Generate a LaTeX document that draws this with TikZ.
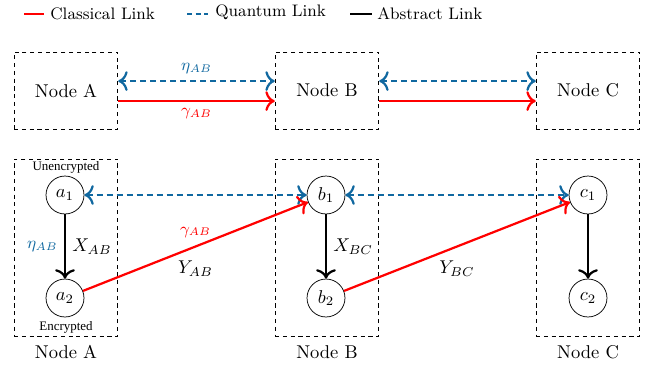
\documentclass[tikz,border=0pt]{standalone}
\usepackage{fontspec}
\usepackage{xcolor}
\usepackage{amsmath}
\usepackage{tikz}
\usetikzlibrary{arrows.meta}
\newfontfamily\timesfont{Liberation Serif}
\definecolor{quantblue}{RGB}{16,104,160}

\begin{document}
\begin{tikzpicture}[x=0.54pt, y=-0.54pt, >={To[scale=1.2]},
  box/.style={draw, dash pattern=on 2.2pt off 2pt, minimum width=56pt, inner sep=0pt},
  st/.style={draw, circle, minimum size=20.5pt, inner sep=0pt},
  classical/.style={->, very thick, red},
  quantum/.style={<->, very thick, quantblue, dash pattern=on 3.2pt off 2.2pt},
  abstract/.style={->, very thick, black},
  legend/.style={anchor=west, inner sep=0pt, font=\small},
  tag/.style={font=\timesfont\scriptsize}]
  \useasboundingbox (0,0) rectangle (651,367);
  % legend
  \coordinate (lc1) at (24,14); \coordinate (lc2) at (44,14);
  \coordinate (lq1) at (187,14); \coordinate (lq2) at (208,14);
  \coordinate (la1) at (350,14); \coordinate (la2) at (372,14);
  \draw[very thick, red] (lc1) -- (lc2);
  \draw[very thick, quantblue, dash pattern=on 2.8pt off 1.8pt] (lq1) -- (lq2);
  \draw[very thick] (la1) -- (la2);
  \node[legend] (lgC) at (50,14) {Classical Link};
  \node[legend] (lgQ) at (215,12) {Quantum Link};
  \node[legend] (lgA) at (377,14) {Abstract Link};
  % top row
  \node[box, minimum height=41.6pt] (tA) at (66,90.5) {Node A};
  \node[box, minimum height=41.6pt] (tB) at (327,90.5) {Node B};
  \node[box, minimum height=41.6pt] (tC) at (588,90.5) {Node C};
  \draw[quantum] ([yshift=5.1pt]tA.east) -- node[above, font=\small] {$\eta_{AB}$} ([yshift=5.1pt]tB.west);
  \draw[classical] ([yshift=-5.7pt]tA.east) -- node[below, font=\small] {$\gamma_{AB}$} ([yshift=-5.7pt]tB.west);
  \draw[quantum] ([yshift=5.1pt]tB.east) -- ([yshift=5.1pt]tC.west);
  \draw[classical] ([yshift=-5.7pt]tB.east) -- ([yshift=-5.7pt]tC.west);
  % bottom row
  \node[box, minimum height=95.6pt] (bA) at (66,247.5) {};
  \node[box, minimum height=95.6pt] (bB) at (327,247.5) {};
  \node[box, minimum height=95.6pt] (bC) at (588,247.5) {};
  \node (nA) at (66,352) {Node A};
  \node (nB) at (327,352) {Node B};
  \node (nC) at (588,352) {Node C};
  \node[tag] (unenc) at (66,167) {Unencrypted};
  \node[tag] (enc) at (66,327) {Encrypted};
  \node[st] (a1) at (65,195) {$a_1$};
  \node[st] (a2) at (65,298) {$a_2$};
  \node[st] (b1) at (326,195) {$b_1$};
  \node[st] (b2) at (326,298) {$b_2$};
  \node[st] (c1) at (588,195) {$c_1$};
  \node[st] (c2) at (588,298) {$c_2$};
  \draw[abstract] (a1) -- node[right] {$X_{AB}$} node[left, font=\small, text=quantblue] {$\eta_{AB}$} (a2);
  \draw[abstract] (b1) -- node[right] {$X_{BC}$} (b2);
  \draw[abstract] (c1) -- (c2);
  \draw[quantum] (a1) -- (b1);
  \draw[quantum] (b1) -- (c1);
  \draw[classical] (a2) -- node[above, font=\small, pos=0.5, yshift=1pt] {$\gamma_{AB}$} node[below, text=black, pos=0.5, yshift=-4pt] {$Y_{AB}$} (b1);
  \draw[classical] (b2) -- node[below, text=black, pos=0.5, yshift=-4pt] {$Y_{BC}$} (c1);
\end{tikzpicture}
\end{document}
